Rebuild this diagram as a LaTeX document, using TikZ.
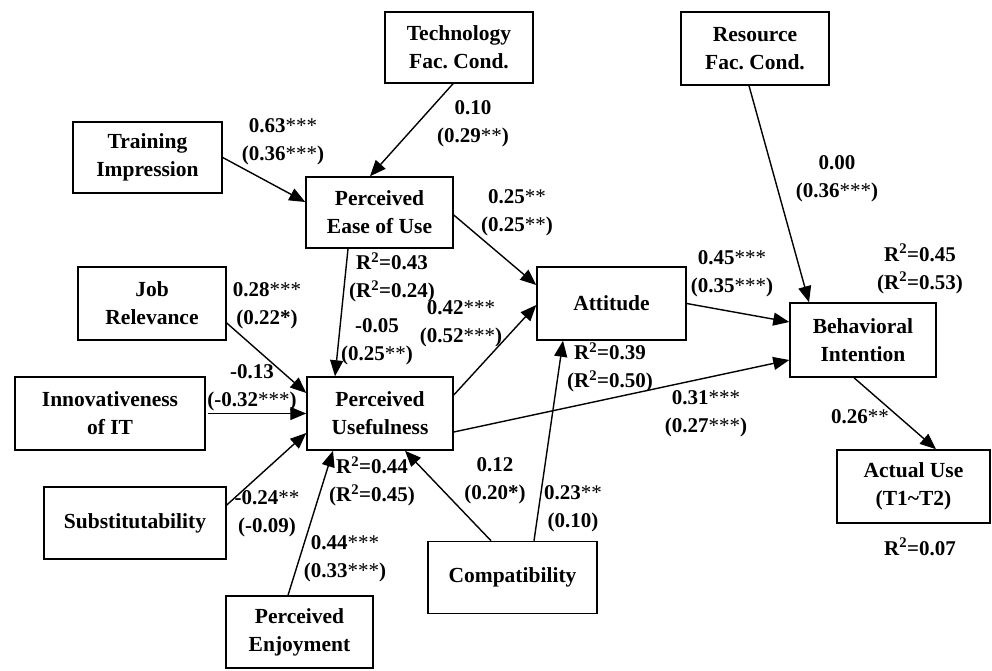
\documentclass[tikz,border=0pt]{standalone}
\usepackage{fontspec}
\setmainfont{Liberation Serif}
\usetikzlibrary{arrows.meta}
\frenchspacing

\tikzset{
  construct/.style={draw, line width=1.5pt, inner sep=0pt, align=center,
    font=\fontsize{21.5}{28}\selectfont\bfseries},
  coef/.style={inner sep=0pt, align=center,
    font=\fontsize{21}{28}\selectfont\bfseries},
  path/.style={line width=1.4pt, -{Triangle[length=16pt,width=13pt]}}
}
\newcommand{\Rsq}{R\textsuperscript{2}}
\newcommand{\sig}[1]{{\mdseries#1}}

\begin{document}
\begin{tikzpicture}[x=1pt, y=-1pt]
  \useasboundingbox (0,0) rectangle (992,670);

  % constructs
  \node[construct, minimum width=148pt, minimum height=71pt] (tech)   at (459,47.5)   {Technology\\Fac. Cond.};
  \node[construct, minimum width=148pt, minimum height=73pt] (res)    at (755,48.5)   {Resource\\Fac. Cond.};
  \node[construct, minimum width=149pt, minimum height=71pt] (train)  at (147.5,157.5) {Training\\Impression};
  \node[construct, minimum width=147pt, minimum height=71pt] (peou)   at (379.5,212.5) {Perceived\\Ease of Use};
  \node[construct, minimum width=148pt, minimum height=73pt] (job)    at (152,303.5)  {Job\\Relevance};
  \node[construct, minimum width=190pt, minimum height=73pt] (innov)  at (110,413.5)  {Innovativeness\\of IT};
  \node[construct, minimum width=146pt, minimum height=73pt] (pu)     at (380,413.5)  {Perceived\\Usefulness};
  \node[construct, minimum width=182pt, minimum height=72pt] (subst)  at (135,523)    {Substitutability};
  \node[construct, minimum width=147pt, minimum height=72pt] (enjoy)  at (299.5,632)  {Perceived\\Enjoyment};
  \node[construct, minimum width=149pt, minimum height=73pt] (att)    at (611.5,303.5) {Attitude};
  \node[construct, minimum width=146pt, minimum height=74pt] (bi)     at (863,340)    {Behavioral\\Intention};
  \node[construct, minimum width=153pt, minimum height=73pt] (use)    at (913.5,486.5) {Actual Use\\(T1\textasciitilde T2)};
  \node[construct, minimum width=169pt, minimum height=72pt] (compat) at (512.5,577.5) {Compatibility};

  % structural paths
  \draw[path] (train.east) -- ([yshift=10.5pt]peou.west);
  \draw[path] ([xshift=-6pt]tech.south) -- ([xshift=-9.5pt]peou.north);
  \draw[path] ([yshift=-2.5pt]peou.east) -- ([yshift=18.5pt]att.west);
  \draw[path] ([xshift=-31.5pt]peou.south) -- ([xshift=-45pt]pu.north);
  \draw[path] ([yshift=-19.5pt]job.east) -- ([yshift=20.5pt]pu.west);
  \draw[path] ([xshift=2pt]innov.east) -- (pu.west);
  \draw[path] ([yshift=18pt]subst.east) -- ([yshift=-19.5pt]pu.west);
  \draw[path] ([xshift=-11.5pt]enjoy.north) -- ([xshift=-47pt]pu.south);
  \draw[path] ([xshift=-21.5pt]compat.north) -- ([xshift=25pt]pu.south);
  \draw[path] ([xshift=21.5pt]compat.north) -- ([xshift=-48.5pt]att.south);
  \draw[path] ([yshift=18.5pt]pu.east) -- ([yshift=-1.5pt]att.west);
  \draw[path] ([yshift=-18.5pt]pu.east) -- ([yshift=-20pt]bi.west);
  \draw[path] (att.east) -- ([yshift=18pt]bi.west);
  \draw[path] ([xshift=-6pt]res.south) -- ([xshift=-54pt]bi.north);
  \draw[path] ([xshift=-9pt]bi.south) -- ([xshift=22.5pt]use.north);

  % coefficients and explained variance
  \node[coef] (c1)  at (283,142)   {0.63\sig{***}\\(0.36\sig{***})};
  \node[coef] (c2)  at (473,123.5) {0.10\\(0.29\sig{**})};
  \node[coef] (c3)  at (517,213)   {0.25\sig{**}\\(0.25\sig{**})};
  \node[coef] (c4)  at (837,178.5) {0.00\\(0.36\sig{***})};
  \node[coef] (c5)  at (920,269)   {\Rsq=0.45\\(\Rsq=0.53)};
  \node[coef] (c6)  at (732,273.5) {0.45\sig{***}\\(0.35\sig{***})};
  \node[coef] (c7)  at (392,277.5) {\Rsq=0.43\\(\Rsq=0.24)};
  \node[coef] (c8)  at (267,306)   {0.28\sig{***}\\(0.22*)};
  \node[coef] (c9)  at (461,323.5) {0.42\sig{***}\\(0.52\sig{***})};
  \node[coef] (c10) at (377,341.5) {-0.05\\(0.25\sig{**})};
  \node[coef] (c11) at (252,387.5) {-0.13\\(-0.32\sig{***})};
  \node[coef] (c12) at (372,481.5) {\Rsq=0.44\\(\Rsq=0.45)};
  \node[coef] (c13) at (267,514)   {-0.24\sig{**}\\(-0.09)};
  \node[coef] (c14) at (345,559)   {0.44\sig{***}\\(0.33\sig{***})};
  \node[coef] (c15) at (495,481)   {0.12\\(0.20*)};
  \node[coef] (c16) at (610,367.5) {\Rsq=0.39\\(\Rsq=0.50)};
  \node[coef] (c17) at (706,414)   {0.31\sig{***}\\(0.27\sig{***})};
  \node[coef] (c18) at (860,417)   {0.26\sig{**}};
  \node[coef] (c19) at (573,509)   {0.23\sig{**}\\(0.10)};
  \node[coef] (c20) at (920,547)   {\Rsq=0.07};
\end{tikzpicture}
\end{document}
